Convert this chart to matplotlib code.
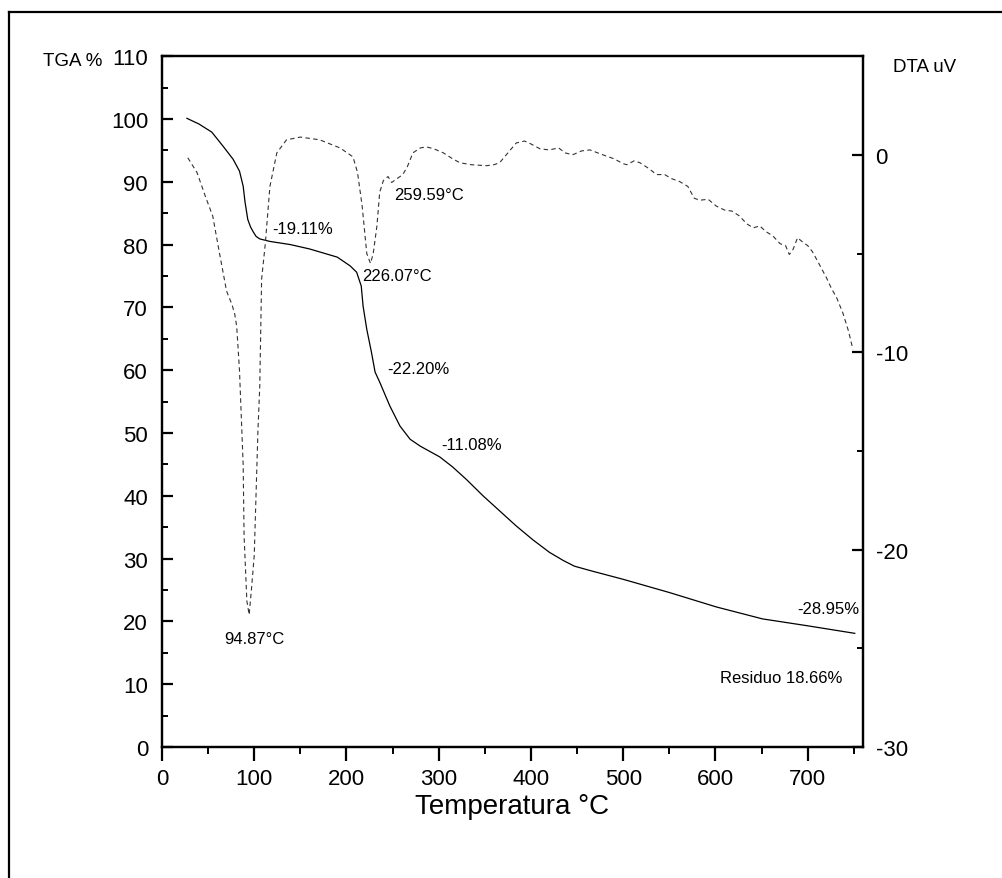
import matplotlib
matplotlib.use("Agg")
import matplotlib.pyplot as plt
from matplotlib.lines import Line2D
from matplotlib.ticker import MultipleLocator

plt.rcParams["font.family"] = ["Liberation Sans", "DejaVu Sans"]
plt.rcParams["axes.unicode_minus"] = False

# TGA curve (left axis, %)
tga_temp = [27, 40, 54, 66, 77, 84, 88, 90, 93, 96, 99, 102, 106, 117, 139, 160,
            190, 204, 211, 216, 218, 222, 227, 231, 236, 247, 258, 269, 280, 301,
            315, 330, 348, 366, 384, 402, 420, 435, 447, 464, 500, 550, 601, 651,
            700, 751]
tga_pct = [100.1, 99.2, 97.9, 95.7, 93.6, 91.7, 89.3, 86.8, 84.0, 82.8, 82.0, 81.3,
           80.9, 80.5, 80.0, 79.3, 78.0, 76.6, 75.6, 73.4, 70.2, 66.5, 62.9, 59.7,
           58.1, 54.3, 51.1, 49.0, 47.9, 46.2, 44.6, 42.6, 40.0, 37.6, 35.2, 33.0,
           31.0, 29.7, 28.8, 28.1, 26.7, 24.6, 22.3, 20.4, 19.3, 18.1]

# DTA curve (right axis, uV)
dta_temp = [28, 38, 47, 55, 63, 70, 76, 79, 81, 84, 86.5, 88, 89, 92, 94.5, 97, 100,
            104, 106, 108, 112, 117, 124.5, 135, 150, 171, 193, 207, 212, 217, 222,
            226, 229, 233, 236, 240, 245, 249, 255, 261, 266, 272, 280, 287, 295,
            305, 315, 323, 335, 352, 360, 366, 375, 384, 393, 400, 410, 420, 430,
            437, 445, 455, 464, 475, 490, 500, 504, 512, 518, 528, 536, 545, 552,
            561, 570, 577, 583, 592, 601, 610, 618, 626, 634, 641, 648, 655, 662,
            670, 676, 680, 684, 689, 694, 700, 705, 712, 720, 726, 731, 738, 744, 749]
dta_uv = [-0.15, -0.9, -2.1, -3.1, -5.15, -6.9, -7.6, -8.1, -8.7, -10.9, -13.9, -15.7,
          -19.3, -22.6, -23.3, -22.0, -20.3, -14.0, -11.7, -6.3, -4.5, -1.6, 0.1, 0.76,
          0.9, 0.76, 0.35, -0.1, -0.9, -2.6, -5.0, -5.5, -5.0, -3.6, -1.9, -1.3, -1.1,
          -1.4, -1.2, -1.0, -0.6, 0.1, 0.35, 0.4, 0.3, 0.1, -0.2, -0.4, -0.5, -0.55,
          -0.5, -0.4, 0.1, 0.6, 0.7, 0.55, 0.3, 0.25, 0.35, 0.1, 0.0, 0.2, 0.25, 0.05,
          -0.2, -0.45, -0.5, -0.3, -0.4, -0.7, -1.0, -1.0, -1.2, -1.35, -1.6, -2.2,
          -2.3, -2.25, -2.6, -2.8, -2.85, -3.1, -3.5, -3.7, -3.6, -3.9, -4.1, -4.5,
          -4.6, -5.05, -4.8, -4.2, -4.4, -4.6, -4.9, -5.5, -6.2, -6.8, -7.2, -8.0,
          -8.9, -9.85]

# annotations: text, temperature, TGA-axis y
notes = ["-19.11%", "259.59°C", "226.07°C", "-22.20%", "-11.08%", "94.87°C",
         "-28.95%", "Residuo 18.66%"]
note_x = [120, 252, 217, 244, 303, 67, 689, 605]
note_y = [82.5, 87.9, 75.0, 60.3, 48.1, 17.2, 22.0, 11.1]

fig = plt.figure(figsize=(10.03, 8.79), dpi=100)
ax = fig.add_axes([0.1615, 0.149, 0.699, 0.786])
ax2 = ax.twinx()

ax.plot(tga_temp, tga_pct, color="black", lw=0.9)
ax2.plot(dta_temp, dta_uv, color="#333333", lw=0.8, dashes=(4, 3))

ax.set_xlim(0, 760)
ax.set_ylim(0, 110)
ax2.set_ylim(-30, 5)

ax.xaxis.set_major_locator(MultipleLocator(100))
ax.xaxis.set_minor_locator(MultipleLocator(50))
ax.yaxis.set_major_locator(MultipleLocator(10))
ax.yaxis.set_minor_locator(MultipleLocator(5))
ax2.set_yticks([-30, -20, -10, 0])
ax2.set_yticks([-25, -15, -5], minor=True)

for a in (ax, ax2):
    for s in a.spines.values():
        s.set_linewidth(1.6)

ax.tick_params(axis="x", which="major", direction="out", length=10, width=1.6,
               labelsize=16, pad=5, top=False)
ax.tick_params(axis="x", which="minor", direction="out", length=5, width=1.4, top=False)
ax.tick_params(axis="y", which="major", direction="in", length=8, width=1.6,
               labelsize=16, pad=10)
ax.tick_params(axis="y", which="minor", direction="in", length=4, width=1.4)
ax2.tick_params(axis="y", which="major", direction="in", length=8, width=1.6,
                labelsize=16, pad=9)
ax2.tick_params(axis="y", which="minor", direction="in", length=4, width=1.4)

ax.set_xlabel("Temperatura °C", fontsize=20, labelpad=3)

for t, x, y in zip(notes, note_x, note_y):
    ax.text(x, y, t, fontsize=12, ha="left", va="center")

fig.text(43 / 1003, 1 - 61 / 879, "TGA %", fontsize=13.5, ha="left", va="center")
fig.text(893 / 1003, 1 - 67 / 879, "DTA uV", fontsize=13.5, ha="left", va="center")

# outer frame: only its left and top edges fall inside the image
fx, fy = 9.5 / 1003, 1 - 13 / 879
fig.add_artist(Line2D([fx, fx], [0, fy], transform=fig.transFigure,
                      color="black", lw=1.6))
fig.add_artist(Line2D([fx, 1], [fy, fy], transform=fig.transFigure,
                      color="black", lw=1.6))

fig.savefig("out.png", dpi=100)
